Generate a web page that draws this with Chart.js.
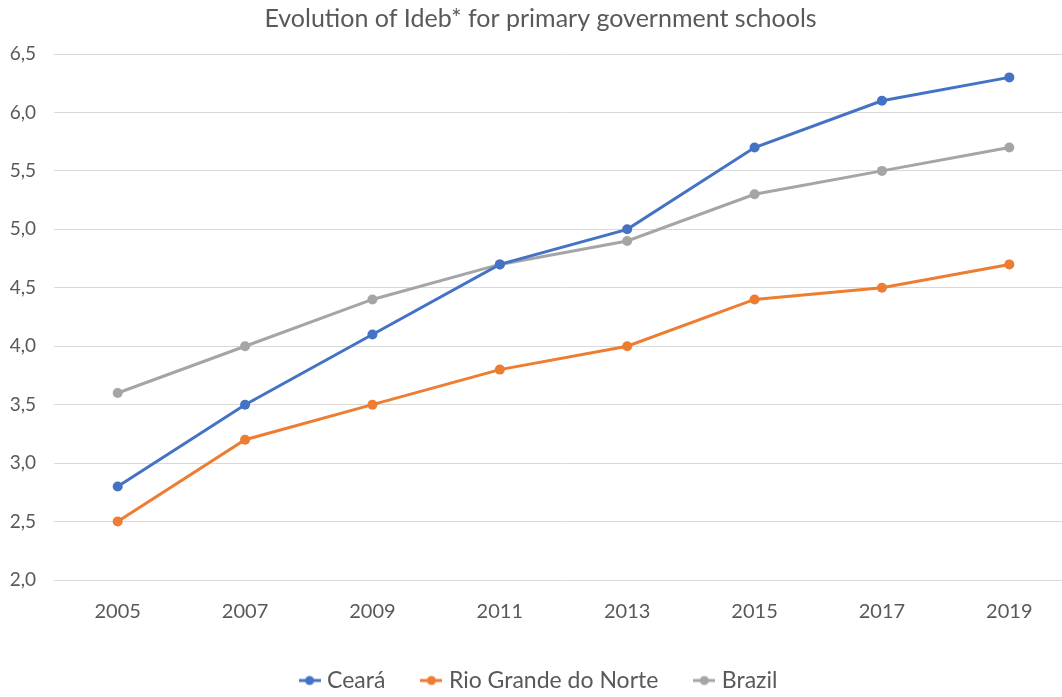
<!DOCTYPE html>
<html>
<head>
<meta charset="utf-8">
<script src="https://cdn.jsdelivr.net/npm/chart.js@4/dist/chart.umd.min.js"></script>
<style>
	html, body { margin: 0; padding: 0; background: #fff; overflow: hidden; }
	#wrap { width: 1062px; height: 697px; overflow: hidden; }
</style>
</head>
<body>
<div id="wrap"><canvas id="chart" width="1100" height="697"></canvas></div>
<script>
const years = ["2005", "2007", "2009", "2011", "2013", "2015", "2017", "2019"];
const ceara = [2.8, 3.5, 4.1, 4.7, 5.0, 5.7, 6.1, 6.3];
const rioGrande = [2.5, 3.2, 3.5, 3.8, 4.0, 4.4, 4.5, 4.7];
const brazil = [3.6, 4.0, 4.4, 4.7, 4.9, 5.3, 5.5, 5.7];
const seriesNames = ["Ceará", "Rio Grande do Norte", "Brazil"];
const colors = ["#4472C4", "#ED7D31", "#A5A5A5"];
const textColor = "#595959";
const fontName = "Lato, 'Open Sans', sans-serif";

// little line + dot icon like the office legend
function legendIcon(color){
	let c = document.createElement("canvas");
	c.width = 22;
	c.height = 12;
	let g = c.getContext("2d");
	g.strokeStyle = color;
	g.lineWidth = 3;
	g.beginPath();
	g.moveTo(0, 6);
	g.lineTo(22, 6);
	g.stroke();
	g.fillStyle = color;
	g.beginPath();
	g.arc(11, 6, 4.5, 0, Math.PI * 2);
	g.fill();
	return c;
}

let values = [ceara, rioGrande, brazil];
let dataSets = [];
for(let i = 0; i < values.length; i++){
	dataSets[dataSets.length] = {
		label: seriesNames[i],
		data: values[i],
		borderColor: colors[i],
		backgroundColor: colors[i],
		borderWidth: 3,
		pointRadius: 5,
		pointHoverRadius: 5,
		pointBorderWidth: 0,
		pointStyle: "circle",
		fill: false,
		tension: 0
	};
}
let icons = colors.map(legendIcon);

let ctx = document.getElementById("chart").getContext("2d");
let chart = new Chart(ctx, {
	type: "line",
	data: {
		labels: years,
		datasets: dataSets
	},
	options: {
		responsive: false,
		animation: false,
		layout: { padding: { left: 8, right: 27, top: 0, bottom: 0 } },
		plugins: {
			title: {
				display: true,
				text: "Evolution of Ideb* for primary government schools",
				color: textColor,
				font: { family: fontName, size: 25, weight: "normal" },
				padding: { top: 4, bottom: 20 }
			},
			legend: {
				position: "bottom",
				maxHeight: 68,
				labels: {
					color: textColor,
					font: { family: fontName, size: 23 },
					usePointStyle: true,
					pointStyleWidth: 12,
					padding: 40,
					generateLabels: function(ch){
						return ch.data.datasets.map(function(ds, i){
							return {
								text: ds.label,
								fillStyle: colors[i],
								strokeStyle: colors[i],
								pointStyle: icons[i],
								fontColor: textColor,
								lineWidth: 0,
								datasetIndex: i,
								hidden: false
							};
						});
					}
				}
			},
			tooltip: { enabled: false }
		},
		scales: {
			x: {
				offset: true,
				afterFit: function(scale){ scale.height = 49; },
				grid: { display: false, drawTicks: false },
				border: { display: false },
				ticks: {
					color: textColor,
					font: { family: fontName, size: 20 },
					padding: 20,
					maxRotation: 0
				}
			},
			y: {
				min: 2,
				max: 6.5,
				afterFit: function(scale){ scale.width = 46; },
				grid: { color: "#D9D9D9", lineWidth: 1, drawTicks: false },
				border: { display: false },
				ticks: {
					stepSize: 0.5,
					color: textColor,
					font: { family: fontName, size: 19 },
					padding: 18,
					callback: function(v){ return v.toFixed(1).replace(".", ","); }
				}
			}
		}
	}
});
</script>
</body>
</html>
